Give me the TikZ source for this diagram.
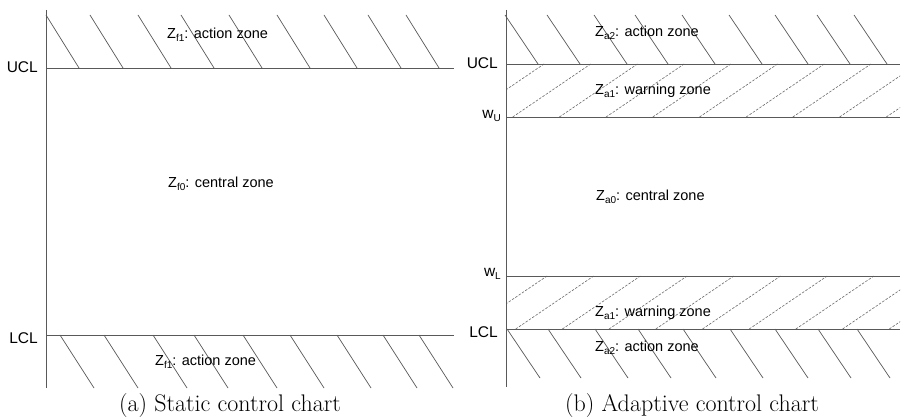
\documentclass[tikz,border=0pt]{standalone}
\usepackage{fontspec}
\newfontfamily\arial{Liberation Sans}
\newcommand\zsb[1]{\raisebox{-0.35ex}{\fontsize{10}{10}\selectfont #1}}
\begin{document}
\begin{tikzpicture}[x=1pt,y=-1pt,
  axisline/.style={draw=black!65, line width=0.9pt},
  hatchline/.style={draw=black!65, line width=0.7pt},
  dashline/.style={draw=black!58, line width=0.6pt, dash pattern=on 2.5pt off 1.5pt},
  lbl/.style={font=\arial\fontsize{14.5}{16}\selectfont, inner sep=0pt, anchor=west},
  side/.style={font=\arial\fontsize{15.5}{16}\selectfont, inner sep=0pt, anchor=east},
  captext/.style={font=\fontsize{24}{26}\selectfont, inner sep=0pt}]
\useasboundingbox (0,0) rectangle (902,419);
\fill[white] (0,0) rectangle (902,419);

% ---------- (a) static chart ----------
\foreach \s in {46,90,138,181,229,277,324,368,406}
  \draw[hatchline] (\s,15) -- ++(33,53);
\foreach \s in {60,104,153,194,243,290,337,383,419}
  \draw[hatchline] (\s,335) -- ++(34,53);
\coordinate (aTop) at (46,10);
\coordinate (aBot) at (46,388);
\coordinate (aU0) at (46,68);
\coordinate (aU1) at (454,68);
\coordinate (aL0) at (46,335);
\coordinate (aL1) at (454,335);
\draw[axisline] (aTop) -- (aBot);
\draw[axisline] (aU0) -- (aU1);
\draw[axisline] (aL0) -- (aL1);
\node[side] (aUCL) at (38,67) {UCL};
\node[side] (aLCL) at (38,338) {LCL};
\node[lbl] (af1t) at (167,35) {Z\zsb{f1}: action zone};
\node[lbl] (af0) at (168,184) {Z\zsb{f0}: central zone};
\node[lbl] (af1b) at (155,362) {Z\zsb{f1}: action zone};
\node[captext] (capa) at (230,406) {(a) Static control chart};

% ---------- (b) adaptive chart ----------
\foreach \s in {505,547,594,635,682,729,775,817,854}
  \draw[hatchline] (\s,15) -- ++(33,49);
\foreach \s in {507,548,595,638,683,730,775,818,857}
  \draw[hatchline] (\s,329) -- ++(33,49);
\begin{scope}
  \clip (506,64) rectangle (900,117);
  \foreach \k in {0,...,9}
    \draw[dashline] (466+46.7*\k,117) -- ++(78,-53);
\end{scope}
\begin{scope}
  \clip (506,276) rectangle (900,329);
  \foreach \k in {0,...,9}
    \draw[dashline] (469+46.7*\k,329) -- ++(78,-53);
\end{scope}
\coordinate (bTop) at (506,10);
\coordinate (bBot) at (506,387);
\draw[axisline] (bTop) -- (bBot);
\foreach \y/\n in {64/bU,117/bWU,276/bWL,329/bL}{
  \coordinate (\n0) at (506,\y);
  \coordinate (\n1) at (900,\y);
  \draw[axisline] (\n0) -- (\n1);
}
\node[side] (bUCL) at (498,63) {UCL};
\node[side] (bwU) at (501,116) {w\zsb{U}};
\node[side] (bwL) at (501,274) {w\zsb{L}};
\node[side] (bLCL) at (498,332) {LCL};
\node[lbl] (ba2t) at (595,33) {Z\zsb{a2}: action zone};
\node[lbl] (ba1t) at (595,91) {Z\zsb{a1}: warning zone};
\node[lbl] (ba0) at (596,197) {Z\zsb{a0}: central zone};
\node[lbl] (ba1b) at (595,313) {Z\zsb{a1}: warning zone};
\node[lbl] (ba2b) at (595,348) {Z\zsb{a2}: action zone};
\node[captext] (capb) at (692,406) {(b) Adaptive control chart};
\end{tikzpicture}
\end{document}
